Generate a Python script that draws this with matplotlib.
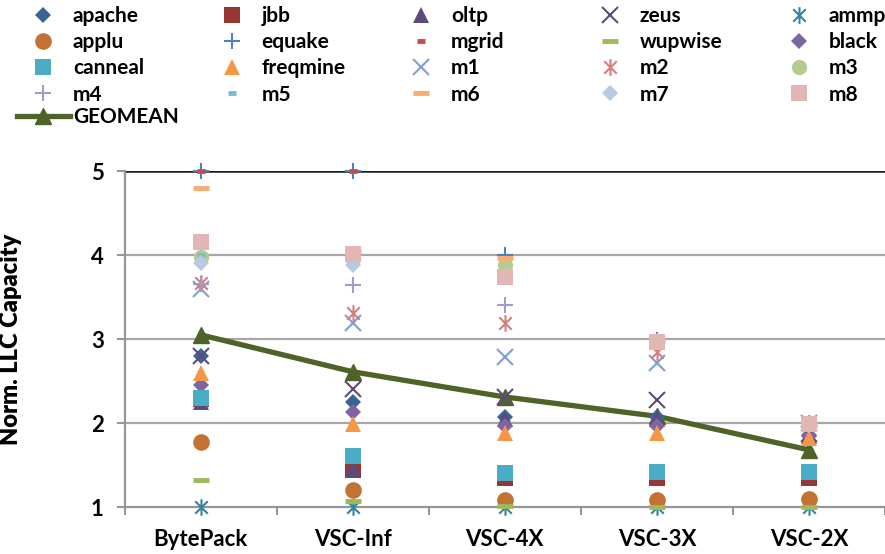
import matplotlib
matplotlib.use('Agg')
import matplotlib.pyplot as plt
from matplotlib.path import Path

plt.rcParams['font.family'] = ['Lato', 'DejaVu Sans']
plt.rcParams['font.weight'] = 'bold'

categories = ['BytePack', 'VSC-Inf', 'VSC-4X', 'VSC-3X', 'VSC-2X']

# values (hidden points are put behind the marks that cover them)
apache = [2.80, 2.25, 2.07, 2.07, 1.85]
jbb = [2.28, 1.44, 1.35, 1.35, 1.35]
oltp = [2.25, 1.45, 2.05, 2.05, 1.85]
zeus = [2.80, 2.40, 2.31, 2.27, 1.87]
ammp = [1.00, 1.00, 1.00, 1.00, 1.00]
applu = [1.77, 1.20, 1.08, 1.08, 1.09]
equake = [5.00, 5.00, 4.00, 2.99, 2.00]
mgrid = [5.00, 5.00, 3.83, 2.90, 2.00]
wupwise = [1.32, 1.07, 1.01, 1.00, 1.00]
black = [2.45, 2.13, 1.96, 1.96, 1.86]
canneal = [2.30, 1.61, 1.41, 1.42, 1.42]
freqmine = [2.60, 1.99, 1.88, 1.88, 1.82]
m1 = [3.60, 3.19, 2.79, 2.71, 2.00]
m2 = [3.67, 3.31, 3.19, 2.85, 2.00]
m3 = [3.98, 3.95, 3.88, 2.98, 2.00]
m4 = [3.65, 3.64, 3.40, 2.98, 2.00]
m5 = [4.00, 3.93, 3.80, 2.98, 2.00]
m6 = [4.80, 4.05, 3.97, 2.98, 2.00]
m7 = [3.90, 3.88, 3.75, 2.96, 1.98]
m8 = [4.15, 4.01, 3.74, 2.97, 1.99]
geomean = [3.05, 2.61, 2.31, 2.08, 1.68]

names = ['apache', 'jbb', 'oltp', 'zeus', 'ammp',
         'applu', 'equake', 'mgrid', 'wupwise', 'black',
         'canneal', 'freqmine', 'm1', 'm2', 'm3',
         'm4', 'm5', 'm6', 'm7', 'm8']
series = [apache, jbb, oltp, zeus, ammp,
          applu, equake, mgrid, wupwise, black,
          canneal, freqmine, m1, m2, m3,
          m4, m5, m6, m7, m8]

# excel style star: an x with a vertical bar
star = Path([(0, -1), (0, 1), (-0.75, -0.75), (0.75, 0.75), (-0.75, 0.75), (0.75, -0.75)],
            [Path.MOVETO, Path.LINETO] * 3)

# marker, size, edge width, colour
styles = {
    'apache': ('D', 8.5, 0, '#3A6496'),
    'jbb': ('s', 11, 0, '#953735'),
    'oltp': ('^', 11, 0, '#5F497A'),
    'zeus': ('x', 11, 1.5, '#604A7B'),
    'ammp': (star, 12, 1.5, '#31859C'),
    'applu': ('o', 12, 0, '#C27334'),
    'equake': ('+', 12, 1.5, '#4F81BD'),
    'mgrid': ('_', 6, 3.5, '#C0504D'),
    'wupwise': ('_', 12, 3.5, '#9BBB59'),
    'black': ('D', 8.5, 0, '#8064A2'),
    'canneal': ('s', 12, 0, '#4BACC6'),
    'freqmine': ('^', 12, 0, '#F79646'),
    'm1': ('x', 11, 1.5, '#7F9FD3'),
    'm2': (star, 12, 1.5, '#D47F7D'),
    'm3': ('o', 11, 0, '#B5CC8E'),
    'm4': ('+', 12, 1.5, '#A898C6'),
    'm5': ('_', 6, 3.5, '#78BFD6'),
    'm6': ('_', 12, 3.5, '#FAAB74'),
    'm7': ('D', 8.5, 0, '#B9C9E2'),
    'm8': ('s', 12, 0, '#E2B6B5'),
}

fig = plt.figure(figsize=(8.85, 5.54), dpi=100)
ax = fig.add_axes([124.5 / 885, 47 / 554, 1 - 124.5 / 885, 336 / 554])

x = list(range(len(categories)))

geo_line, = ax.plot(x, geomean, color='#4F6228', lw=3.8, marker='^', ms=12,
                    zorder=3, clip_on=False, label='GEOMEAN')

handles = {}
for name, vals in zip(names, series):
    mk, ms, mew, col = styles[name]
    h, = ax.plot(x, vals, linestyle='none', marker=mk, ms=ms, mew=mew,
                 color=col, mec=col, zorder=4, clip_on=False, label=name)
    handles[name] = h

ax.set_ylim(1, 5)
ax.set_xlim(-0.5, 760.5 / 159 - 0.5)
ax.set_yticks([1, 2, 3, 4, 5])
ax.set_xticks(x)
ax.set_xticklabels(categories, fontsize=16)
ax.set_xticks([i - 0.5 for i in range(6)], minor=True)
ax.tick_params(axis='x', which='major', length=0, pad=16)
ax.tick_params(axis='x', which='minor', length=6, width=1.5, color='#969696')
ax.tick_params(axis='y', length=6, width=1.5, color='#969696', labelsize=16, pad=9)

for v in [2, 3, 4]:
    ax.axhline(v, color='#A6A6A6', lw=1.6, zorder=1)
ax.axhline(5, color='#1A1A1A', lw=1.8, zorder=1)

for s in ['top', 'right']:
    ax.spines[s].set_visible(False)
for s in ['left', 'bottom']:
    ax.spines[s].set_color('#969696')
    ax.spines[s].set_linewidth(1.6)

ax.set_ylabel('Norm. LLC Capacity', fontsize=17, fontweight='heavy')
ax.yaxis.set_label_coords(-0.135, 0.5)

# legend: excel keeps fixed column widths, so one legend per column
col_x = [43, 232, 421, 610, 799]
for c in range(5):
    hs = [handles[n] for n in names[c::5]]
    fig.legend(hs, [h.get_label() for h in hs], loc='upper left',
               bbox_to_anchor=((col_x[c] - 26.5) / 885, 1 - 6 / 554),
               frameon=False, fontsize=15, numpoints=1, handlelength=2.55,
               handletextpad=0.15, borderpad=0, borderaxespad=0,
               labelspacing=0.3)
fig.legend([geo_line], ['GEOMEAN'], loc='upper left',
           bbox_to_anchor=(16.5 / 885, 1 - 107 / 554),
           frameon=False, fontsize=15, numpoints=1, handlelength=2.55,
           handletextpad=0.15, borderpad=0, borderaxespad=0)

fig.savefig('out.png', dpi=100)
